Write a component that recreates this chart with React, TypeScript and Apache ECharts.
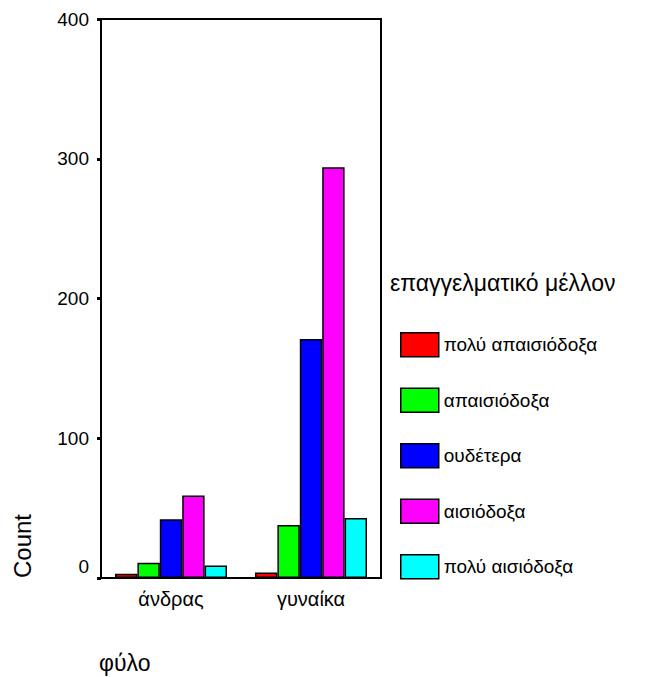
import React, { useEffect, useRef } from "react";
import * as echarts from "echarts";

const categories = ["άνδρας", "γυναίκα"];
const seriesNames = ["πολύ απαισιόδοξα", "απαισιόδοξα", "ουδέτερα", "αισιόδοξα", "πολύ αισιόδοξα"];
const veryPessimistic = [3, 4];
const pessimistic = [11, 38];
const neutral = [42, 171];
const optimistic = [59, 294];
const veryOptimistic = [9, 43];
const seriesColors = ["#FF0000", "#00FF00", "#0000FF", "#FF00FF", "#00FFFF"];
const yTicks = [0, 100, 200, 300, 400];
const legendTitle = "επαγγελματικό μέλλον";
const yTitle = "Count";
const xTitle = "φύλο";

const FONT = "'Liberation Sans', Arial, sans-serif";

export default function App() {
  const ref = useRef<HTMLDivElement>(null);
  useEffect(() => {
    if (!ref.current) return;
    const chart = echarts.init(ref.current, null, { renderer: "svg" });
    const values = [veryPessimistic, pessimistic, neutral, optimistic, veryOptimistic];
    chart.setOption({
      animation: false,
      backgroundColor: "#fff",
      textStyle: { fontFamily: FONT },
      grid: {
        left: 101,
        top: 19,
        right: 271,
        bottom: 99,
        show: true,
        borderColor: "#000",
        borderWidth: 2,
        backgroundColor: "transparent",
      },
      xAxis: {
        type: "category",
        data: categories,
        axisLine: { lineStyle: { color: "#000", width: 2 } },
        axisTick: { alignWithLabel: true, length: 4, lineStyle: { color: "#000", width: 3 } },
        axisLabel: { color: "#000", fontSize: 20, fontFamily: FONT, margin: 11 },
        splitLine: { show: false },
      },
      yAxis: {
        type: "value",
        min: yTicks[0],
        max: yTicks[yTicks.length - 1],
        interval: yTicks[1] - yTicks[0],
        axisLine: { show: true, lineStyle: { color: "#000", width: 2 } },
        axisTick: { show: true, length: 4, lineStyle: { color: "#000", width: 3 } },
        splitLine: { show: false },
        axisLabel: {
          color: "#000",
          fontSize: 19,
          fontFamily: FONT,
          margin: 12,
          formatter: (v: number) => (v === 0 ? "{z|0}" : String(v)),
          rich: { z: { fontSize: 19, fontFamily: FONT, color: "#000", padding: [0, 0, 24, 0] } },
        },
      },
      legend: {
        orient: "vertical",
        left: 395,
        top: 327,
        itemWidth: 38,
        itemHeight: 24,
        itemGap: 30,
        icon: "rect",
        itemStyle: { borderColor: "#000", borderWidth: 1.5 },
        textStyle: { color: "#000", fontSize: 19, fontFamily: FONT },
        data: seriesNames,
      },
      series: seriesNames.map((name, i) => ({
        name,
        type: "bar",
        data: values[i],
        barGap: "0%",
        barCategoryGap: "20%",
        itemStyle: { color: seriesColors[i], borderColor: "#000", borderWidth: 1.5 },
      })),
      graphic: [
        {
          type: "text",
          left: 390,
          top: 271,
          style: { text: legendTitle, fill: "#000", font: `23px ${FONT}` },
        },
        {
          type: "text",
          x: 22,
          y: 546,
          rotation: Math.PI / 2,
          style: { text: yTitle, fill: "#000", font: `24px ${FONT}`, textAlign: "center", textVerticalAlign: "middle" },
        },
        {
          type: "text",
          left: 99,
          top: 651,
          style: { text: xTitle, fill: "#000", font: `23px ${FONT}` },
        },
      ],
    });
    return () => chart.dispose();
  }, []);
  return <div ref={ref} style={{ width: 652, height: 677, position: "absolute", left: 0, top: 0 }} />;
}
